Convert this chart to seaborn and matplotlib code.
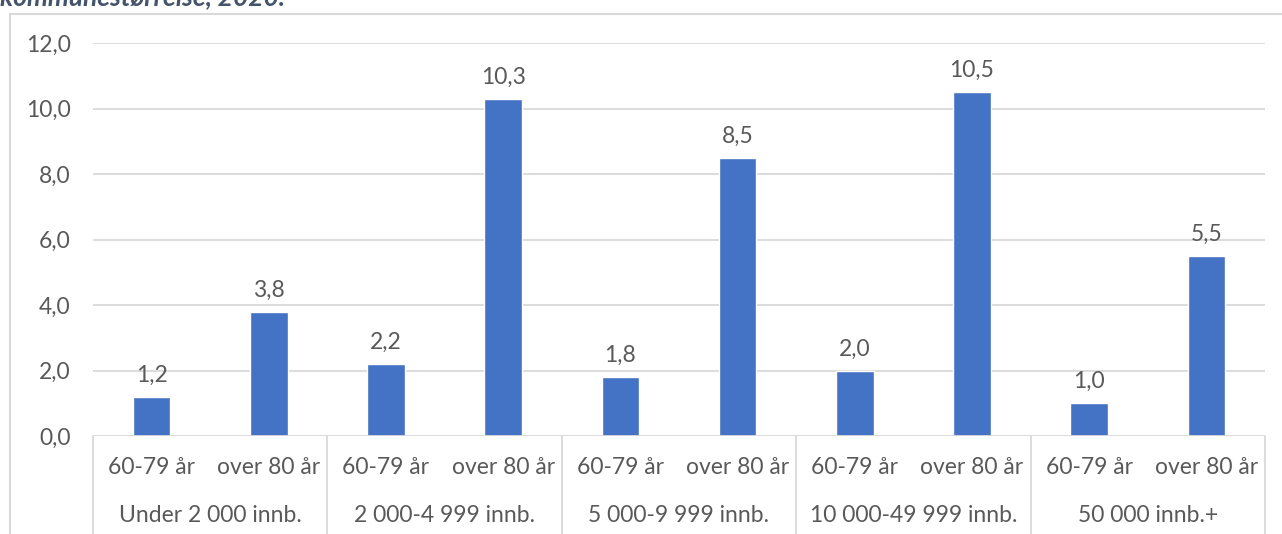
import matplotlib
matplotlib.use("Agg")
import matplotlib.pyplot as plt
import seaborn as sns
import pandas as pd
from matplotlib.patches import Rectangle

# Data
groups = ["Under 2 000 innb.", "2 000-4 999 innb.", "5 000-9 999 innb.",
          "10 000-49 999 innb.", "50 000 innb.+"]
ages = ["60-79 år", "over 80 år"]
young = [1.2, 2.2, 1.8, 2.0, 1.0]
old = [3.8, 10.3, 8.5, 10.5, 5.5]
y_ticks = [0, 2, 4, 6, 8, 10, 12]

rows = []
for g, a, b in zip(groups, young, old):
    rows.append({"slot": f"{g} | {ages[0]}", "group": g, "age": ages[0], "value": a})
    rows.append({"slot": f"{g} | {ages[1]}", "group": g, "age": ages[1], "value": b})
df = pd.DataFrame(rows)

sns.set_theme(style="white")
plt.rcParams["font.family"] = ["Lato", "DejaVu Sans"]

txt = "#595959"
grid = "#D9D9D9"
bar_color = "#4472C4"
fs = 16.5

fig = plt.figure(figsize=(12.82, 5.34), dpi=100)
W, H = 1282, 534
ax = fig.add_axes([93 / W, (H - 436) / H, (1265 - 93) / W, (436 - 43) / H])

sns.barplot(data=df, x="slot", y="value", order=list(df["slot"]),
            color=bar_color, width=0.32, saturation=1, ax=ax, errorbar=None)

ax.set_ylim(0, 12)
ax.set_xlim(-0.5, len(df) - 0.5)
ax.set_yticks(y_ticks)
ax.set_yticklabels([f"{v:.1f}".replace(".", ",") for v in y_ticks],
                   color=txt, fontsize=fs)
ax.tick_params(axis="y", length=0, pad=16)
ax.set_xticks([])
ax.set_xlabel("")
ax.set_ylabel("")
for s in ax.spines.values():
    s.set_visible(False)
for v in y_ticks[1:]:
    ax.axhline(v, color=grid, lw=1.3, zorder=0)
ax.axhline(0, color=grid, lw=1.3, zorder=3)

# value labels
for i, v in enumerate(df["value"]):
    ax.annotate(f"{v:.1f}".replace(".", ","), (i, v), xytext=(0, 8),
                textcoords="offset points", ha="center", va="bottom",
                color=txt, fontsize=fs)

# two-level category axis
trans = ax.get_xaxis_transform()
px = 1.0 / (436 - 43)
for i, a in enumerate(df["age"]):
    ax.text(i, -31 * px, a, transform=trans, ha="center", va="center",
            color=txt, fontsize=fs, clip_on=False)
for k, g in enumerate(groups):
    ax.text(2 * k + 0.5, -79 * px, g, transform=trans, ha="center", va="center",
            color=txt, fontsize=fs, clip_on=False)
for k in range(len(groups) + 1):
    ax.plot([2 * k - 0.5, 2 * k - 0.5], [0, -100 * px], transform=trans,
            color=grid, lw=1.3, clip_on=False)

# chart frame
fig.patches.append(Rectangle((10 / W, -0.1), 1.2, (H - 14) / H + 0.1,
                             transform=fig.transFigure, fill=False,
                             edgecolor=grid, lw=1.5))

# title line above the frame
fig.text(0, 1 - 5 / H, "kommunestørrelse, 2020.", ha="left", va="baseline",
         fontsize=19, fontweight="bold", fontstyle="italic", color="#44546A")

fig.savefig("out.png", dpi=100, facecolor="white")
